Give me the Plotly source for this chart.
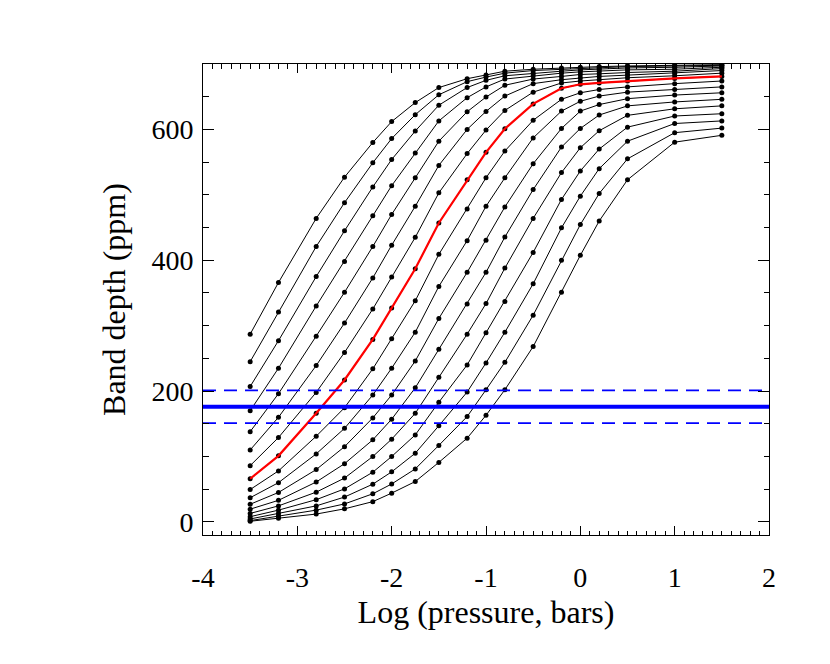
import plotly.graph_objects as go

# log10 of pressure (bars) at which each model was computed
log_p = [-3.5, -3.2, -2.8, -2.5, -2.2, -2.0, -1.75, -1.5, -1.2, -1.0,
         -0.8, -0.5, -0.2, 0.0, 0.2, 0.5, 1.0, 1.5]

# band depth (ppm), one list per model curve, top-left curve first
depth_01 = [287, 366, 464, 527, 580, 612, 641, 664, 677.5, 683, 689, 692, 694, 695, 696, 697, 698, 699]
depth_02 = [245, 321, 421, 488, 549, 586, 622.5, 653, 673, 680, 686, 690, 692, 693, 694, 696, 697, 698]
depth_03 = [207, 277, 375, 445, 512, 554, 597.5, 637, 664, 675, 682, 686, 689, 691, 692, 694, 695, 697]
depth_04 = [170, 235, 330, 398, 468, 514, 564, 613, 648.5, 665, 677, 682, 686, 688, 689, 691, 692, 695]
depth_05 = [138, 196, 284, 351, 421, 470, 526, 582, 627, 649.5, 667.5, 677, 681, 684, 685, 687, 689, 693]
depth_06 = [110, 160, 239, 304, 373, 423, 482.5, 545, 600, 627.5, 651, 670, 676, 679, 681, 683, 686, 690]
depth_07 = [86, 129, 198, 259, 325.5, 374.5, 435, 503, 563, 599, 629, 657, 671, 674, 676, 679, 682, 686]
depth_08 = [66, 101, 166, 217, 279, 327, 387, 457, 523, 565, 601, 639, 663, 669, 671, 674, 678, 681]
depth_09 = [49.5, 78, 131, 174.5, 234, 280, 338, 409, 478.5, 526, 567, 614, 646, 656, 661, 665, 670, 674]
depth_10 = [37, 60, 104, 143, 194, 235, 290, 360, 430, 482.5, 526, 587, 628, 643, 651, 657, 661, 665]
depth_11 = [27, 45, 80, 115, 159, 194, 246, 311, 381.5, 430.5, 481.5, 547.5, 601.5, 628, 638, 647, 652.5, 656]
depth_12 = [19.5, 33, 61, 89, 125.5, 157, 205, 264, 333, 381.5, 435.5, 508, 573, 601.5, 622, 636, 642, 646]
depth_13 = [13, 24.5, 45.5, 67, 100, 126.5, 166, 221, 287, 333.7, 388, 464, 534, 572, 598, 621.5, 631.5, 636]
depth_14 = [8, 18, 34, 50.5, 76, 100, 133, 183, 240, 289, 337, 412, 493, 536.5, 570, 603.5, 620.5, 624]
depth_15 = [4.5, 13, 24.5, 38, 57.7, 76.5, 105, 147, 198.5, 243, 290, 364, 449.5, 498, 540, 582, 609, 613]
depth_16 = [2, 9, 18, 27.5, 43, 58, 81, 117, 161, 202, 244, 316, 400, 454.5, 502, 555, 595, 602]
depth_17 = [1, 5.7, 12, 20, 31, 44, 61.7, 91, 128, 163, 202, 268, 351, 407.5, 460, 523, 580.5, 591]

# observed band depth and its +/- 1 sigma
obs_depth = 176
obs_low = 151
obs_high = 201

x_ticks = [-4, -3, -2, -1, 0, 1, 2]
x_labels = ['-4', '-3', '-2', '-1', '0', '1', '2']

curves = [depth_01, depth_02, depth_03, depth_04, depth_05, depth_06,
          depth_07, depth_08, depth_09, depth_10, depth_11, depth_12,
          depth_13, depth_14, depth_15, depth_16, depth_17]
red_curve = depth_08

fig = go.Figure()

for c in curves:
    fig.add_trace(go.Scatter(x=log_p, y=c, mode='lines+markers',
                             line={'color': 'black', 'width': 1},
                             marker={'color': 'black', 'size': 5},
                             showlegend=False, hoverinfo='skip'))

fig.add_trace(go.Scatter(x=log_p, y=red_curve, mode='lines',
                         line={'color': '#ff0000', 'width': 2.2},
                         showlegend=False, hoverinfo='skip'))

# observation lines span the whole x range
for val, w, dash in [(obs_high, 1.8, '13px,8px'), (obs_low, 1.8, '13px,8px'),
                     (obs_depth, 4, 'solid')]:
    fig.add_trace(go.Scatter(x=[-4, 2], y=[val, val], mode='lines',
                             line={'color': '#0000ff', 'width': w, 'dash': dash},
                             showlegend=False, hoverinfo='skip'))

font = {'family': 'Liberation Serif', 'size': 26.5, 'color': 'black'}
tickfont = {'family': 'Liberation Serif', 'size': 28, 'color': 'black'}

# the page body adds 8px around the figure, so size/margins are trimmed by that
fig.update_layout(
    width=822, height=656,
    margin={'l': 195, 'r': 61, 't': 56, 'b': 129},
    plot_bgcolor='white', paper_bgcolor='white',
    font=font,
    xaxis={'range': [-4, 2], 'tickvals': x_ticks, 'ticktext': x_labels,
           'tickfont': tickfont,
           'showgrid': False, 'zeroline': False,
           'showline': True, 'linecolor': 'black', 'linewidth': 1, 'mirror': 'ticks',
           'ticks': 'inside', 'ticklen': 9, 'tickcolor': 'black', 'tickwidth': 1,
           'minor': {'dtick': 0.1, 'ticks': 'inside', 'ticklen': 4.5,
                     'tickcolor': 'black', 'showgrid': False},
           'ticklabelstandoff': 17,
           'title': {'text': 'Log (pressure, bars)', 'standoff': 9}},
    yaxis={'range': [-20, 700], 'dtick': 200, 'tick0': 0,
           'tickfont': tickfont,
           'showgrid': False, 'zeroline': False,
           'showline': True, 'linecolor': 'black', 'linewidth': 1, 'mirror': 'ticks',
           'ticks': 'inside', 'ticklen': 11, 'tickcolor': 'black', 'tickwidth': 1,
           'minor': {'dtick': 50, 'ticks': 'inside', 'ticklen': 5.5,
                     'tickcolor': 'black', 'showgrid': False},
           'ticklabelstandoff': 3,
           'title': {'text': 'Band depth (ppm)', 'standoff': 16}},
)

fig.write_html('out.html')
